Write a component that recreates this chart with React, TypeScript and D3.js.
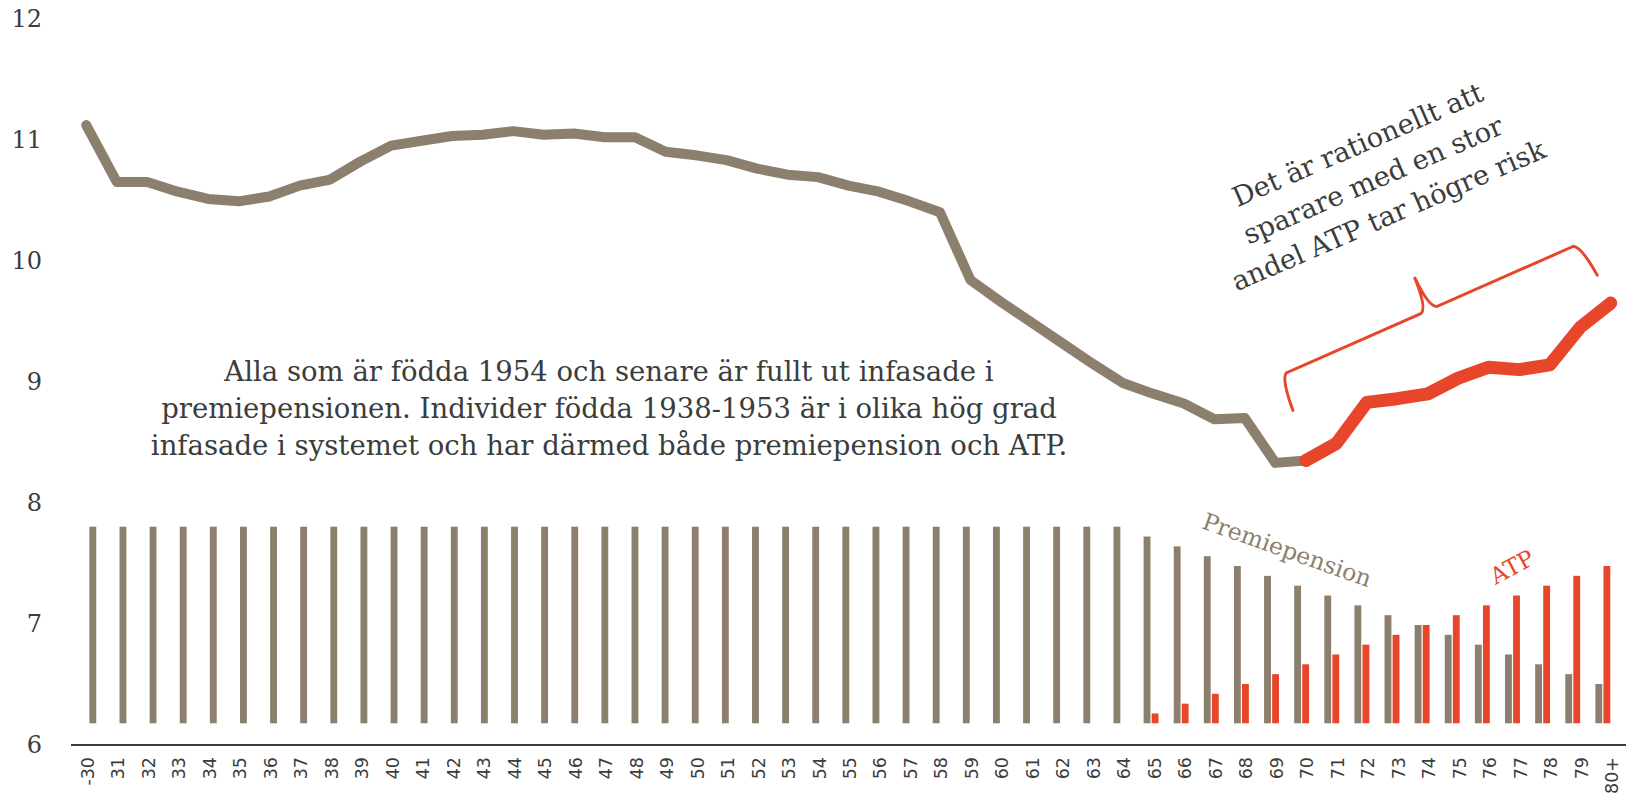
import React from 'react';
import * as d3 from 'd3';

// birth cohorts on the x axis
const categories = [
  '-30', '31', '32', '33', '34', '35', '36', '37', '38', '39',
  '40', '41', '42', '43', '44', '45', '46', '47', '48', '49',
  '50', '51', '52', '53', '54', '55', '56', '57', '58', '59',
  '60', '61', '62', '63', '64', '65', '66', '67', '68', '69',
  '70', '71', '72', '73', '74', '75', '76', '77', '78', '79', '80+',
];

// risk level per cohort (line)
const riskValues = [
  11.12, 10.65, 10.65, 10.57, 10.51, 10.49, 10.53, 10.62, 10.67, 10.82,
  10.95, 10.99, 11.03, 11.04, 11.07, 11.04, 11.05, 11.02, 11.02, 10.90,
  10.87, 10.83, 10.76, 10.71, 10.69, 10.62, 10.57, 10.49, 10.40, 9.84,
  9.66, 9.49, 9.32, 9.15, 8.99, 8.90, 8.82, 8.69, 8.70, 8.33,
  8.35, 8.49, 8.83, 8.86, 8.90, 9.03, 9.12, 9.10, 9.14, 9.45, 9.65,
];

// share of premiepension / ATP per cohort (bars)
const ppShare = [
  1, 1, 1, 1, 1, 1, 1, 1, 1, 1,
  1, 1, 1, 1, 1, 1, 1, 1, 1, 1,
  1, 1, 1, 1, 1, 1, 1, 1, 1, 1,
  1, 1, 1, 1, 1, 0.95, 0.90, 0.85, 0.80, 0.75,
  0.70, 0.65, 0.60, 0.55, 0.50, 0.45, 0.40, 0.35, 0.30, 0.25, 0.20,
];
const atpShare = [
  0, 0, 0, 0, 0, 0, 0, 0, 0, 0,
  0, 0, 0, 0, 0, 0, 0, 0, 0, 0,
  0, 0, 0, 0, 0, 0, 0, 0, 0, 0,
  0, 0, 0, 0, 0, 0.05, 0.10, 0.15, 0.20, 0.25,
  0.30, 0.35, 0.40, 0.45, 0.50, 0.55, 0.60, 0.65, 0.70, 0.75, 0.80,
];

const yTicks = [6, 7, 8, 9, 10, 11, 12];
const atpStart = '70'; // line turns red from this cohort

const noteLines = [
  'Alla som är födda 1954 och senare är fullt ut infasade i',
  'premiepensionen. Individer födda 1938-1953 är i olika hög grad',
  'infasade i systemet och har därmed både premiepension och ATP.',
];
const riskNote = ['Det är rationellt att', 'sparare med en stor', 'andel ATP tar högre risk'];

const GRAY = '#8c7f6d';
const RED = '#e8462a';
const TEXT = '#3a3d3c';

const width = 1630;
const height = 795;

export default function App() {
  const x = d3.scalePoint<string>().domain(categories).range([71, 1626]).padding(0.5);
  const y = d3.scaleLinear().domain([6, 12]).range([745, 18.5]);

  // bar chart is overlaid with its own scales
  const xBar = d3.scaleBand<string>().domain(categories).range([89.4, 1610.3]).paddingInner(0.505);
  const xSub = d3.scaleBand<string>().domain(['pp', 'atp']).range([0, xBar.bandwidth()]).paddingInner(0.15);
  const yBar = d3.scaleLinear().domain([0, 1]).range([723.3, 526.7]);

  const points = categories.map((c, i) => ({ c, v: riskValues[i], i }));
  const split = categories.indexOf(atpStart);
  const line = d3.line<{ c: string; v: number }>()
    .x(d => x(d.c) as number)
    .y(d => y(d.v));

  const brace = 'M -165 37 Q -163 4 -156 0 L -9 0 Q -1 -2 0 -36 Q 1 -2 9 0 L 158 0 Q 165 4 168 36';

  return (
    <svg width={width} height={height} style={{ position: 'absolute', left: 0, top: 0, background: '#fff' }}>
      {/* bars */}
      {categories.map((c, i) => (
        <g key={c} transform={`translate(${xBar(c)},0)`}>
          {ppShare[i] > 0 && (
            <rect x={xSub('pp')} width={xSub.bandwidth()} y={yBar(ppShare[i])}
              height={yBar(0) - yBar(ppShare[i])} fill={GRAY} />
          )}
          {atpShare[i] > 0 && (
            <rect x={xSub('atp')} width={xSub.bandwidth()} y={yBar(atpShare[i])}
              height={yBar(0) - yBar(atpShare[i])} fill={RED} />
          )}
        </g>
      ))}

      {/* x axis */}
      <line x1={71} x2={1626} y1={y(6)} y2={y(6)} stroke={TEXT} strokeWidth={2} />
      {categories.map(c => (
        <text key={c} transform={`translate(${(x(c) as number) + 1.5},757) rotate(-90)`}
          textAnchor="end" dominantBaseline="central" fontFamily="DejaVu Sans" fontSize={17.5} fill={TEXT}>
          {c}
        </text>
      ))}

      {/* y axis labels */}
      {yTicks.map(t => (
        <text key={t} x={42} y={y(t)} textAnchor="end" dominantBaseline="central"
          fontFamily="DejaVu Serif" fontSize={24} fill={TEXT}>
          {t}
        </text>
      ))}

      {/* risk line */}
      <path d={line(points.slice(0, split + 1)) || ''} fill="none" stroke={GRAY} strokeWidth={10}
        strokeLinecap="round" strokeLinejoin="round" />
      <path d={line(points.slice(split)) || ''} fill="none" stroke={RED} strokeWidth={13}
        strokeLinecap="round" strokeLinejoin="round" />

      {/* series labels */}
      <text transform="translate(1287,550) rotate(19.5)" textAnchor="middle" dominantBaseline="central"
        fontFamily="DejaVu Serif" fontSize={23.5} fill={GRAY}>Premiepension</text>
      <text transform="translate(1512,567) rotate(-28)" textAnchor="middle" dominantBaseline="central"
        fontFamily="DejaVu Serif" fontSize={23} fill={RED}>ATP</text>

      {/* note */}
      {noteLines.map((t, i) => (
        <text key={i} x={609} y={371 + i * 37} textAnchor="middle" dominantBaseline="central"
          fontFamily="DejaVu Serif" fontSize={27.5} fill={TEXT}>{t}</text>
      ))}

      {/* risk note + brace */}
      <g transform="translate(1373,180) rotate(-23.5)">
        {riskNote.map((t, i) => (
          <text key={i} x={0} y={(i - 1) * 38.5} textAnchor="middle" dominantBaseline="central"
            fontFamily="DejaVu Serif" fontSize={27.3} fill={TEXT}>{t}</text>
        ))}
      </g>
      <g transform="translate(1429,310) rotate(-23.8)">
        <path d={brace} fill="none" stroke={RED} strokeWidth={3} strokeLinecap="round" />
      </g>
    </svg>
  );
}
